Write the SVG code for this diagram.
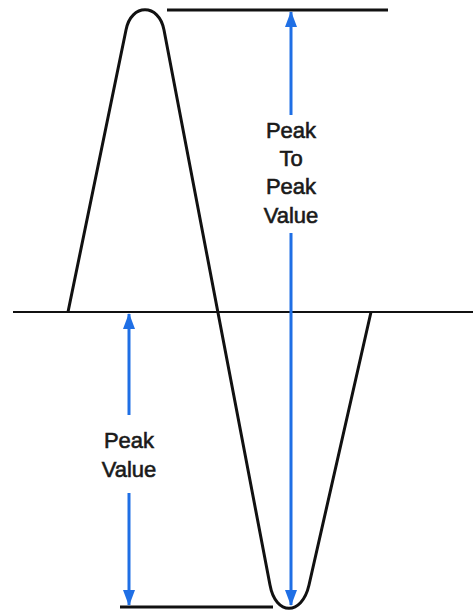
<svg xmlns="http://www.w3.org/2000/svg" width="473" height="612" viewBox="0 0 473 612">
<style>
.blk{stroke:#111;fill:none;stroke-linecap:butt}
.arr{stroke:#1f6fe5;stroke-width:3;fill:none}
.lbl{font-family:"Liberation Sans",Arial,sans-serif;font-size:22px;fill:#1a1a1a;text-anchor:middle;stroke:#1a1a1a;stroke-width:0.6}
</style>
<defs>
<marker id="ah" viewBox="0 0 16 12" refX="15" refY="6" markerWidth="16" markerHeight="12" markerUnits="userSpaceOnUse" orient="auto-start-reverse">
<path d="M0,0 L16,6 L0,12 Z" fill="#1f6fe5"/>
</marker>
</defs>
<rect width="473" height="612" fill="#fff"/>
<g id="lines">
<line class="blk" x1="167" y1="10" x2="388" y2="10" stroke-width="3"/>
<line class="blk" x1="13" y1="312" x2="473" y2="312" stroke-width="2"/>
<line class="blk" x1="120" y1="607" x2="273" y2="607" stroke-width="3"/>
</g>
<g id="wave">
<path class="blk" stroke-width="3" stroke-linejoin="round" d="M68,312 L126,30 C131,3 159,3 164,30 L270,585 C275.6,616 302,616 309,585 L371,312"/>
</g>
<g id="connectors">
<line class="arr" x1="291" y1="115" x2="291" y2="12" marker-end="url(#ah)"/>
<line class="arr" x1="291" y1="233" x2="291" y2="605" marker-end="url(#ah)"/>
<line class="arr" x1="129" y1="415" x2="129" y2="314" marker-end="url(#ah)"/>
<line class="arr" x1="129" y1="493" x2="129" y2="605" marker-end="url(#ah)"/>
</g>
<g id="label-ptp">
<text class="lbl" x="291" y="138">Peak</text>
<text class="lbl" x="291" y="166">To</text>
<text class="lbl" x="291" y="194">Peak</text>
<text class="lbl" x="291" y="223">Value</text>
</g>
<g id="label-peak">
<text class="lbl" x="129" y="448">Peak</text>
<text class="lbl" x="129" y="477">Value</text>
</g>
</svg>
